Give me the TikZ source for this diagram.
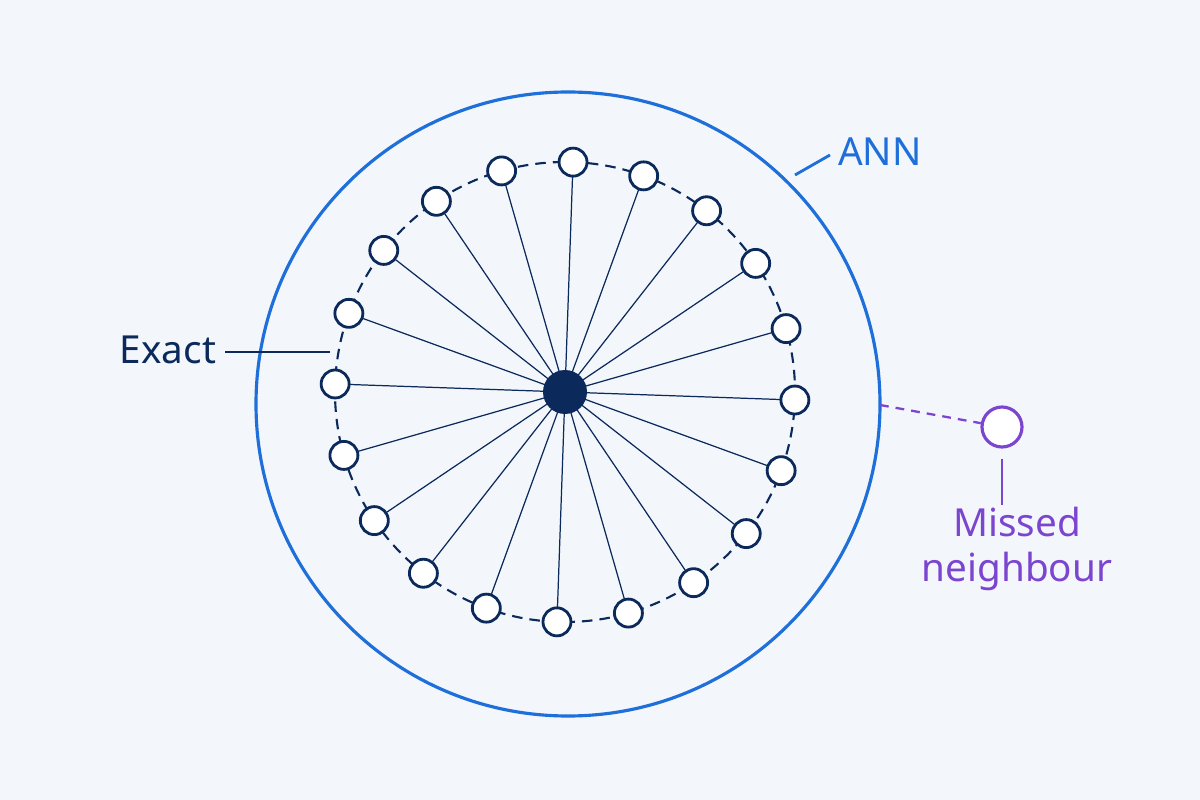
\documentclass[tikz,border=0pt]{standalone}
\usepackage{fontspec}
\setmainfont{Noto Sans}
\usetikzlibrary{calc}
\begin{document}
\begin{tikzpicture}[x=0.02cm,y=-0.02cm,
  nb/.style={circle,draw=navy,line width=1.6pt,fill=white,minimum size=28*0.02cm,inner sep=0},
  spoke/.style={draw=navy,line width=0.7pt},
  lbl/.style={font=\fontsize{22}{26}\selectfont}]
\definecolor{bg}{HTML}{F3F7FC}
\definecolor{navy}{HTML}{0B2A5B}
\definecolor{annblue}{HTML}{1E6FD9}
\definecolor{purp}{HTML}{7B45D0}
\fill[bg] (0,0) rectangle (1200,800);
\useasboundingbox (0,0) rectangle (1200,800);
\draw[annblue,line width=1.8pt] (568,404) circle [radius=312];
\draw[navy,line width=1.2pt,dash pattern=on 6pt off 4pt] (565,392) circle [radius=230];
\coordinate (c) at (565,392);
\foreach \i in {0,...,19}{
  \coordinate (p\i) at ($(c)+({92-18*\i}:230)$);
}
\foreach \i in {0,...,19}{ \draw[spoke] (c) -- (p\i); }
\foreach \i in {0,...,19}{ \node[nb] (n\i) at (p\i) {}; }
\node[circle,fill=navy,minimum size=44*0.02cm,inner sep=0] (q) at (c) {};
% Exact
\node[lbl,text=navy] (ex) at (168,350) {Exact};
\coordinate (exa) at (225,352); \coordinate (exb) at (330,352);
\draw[navy,line width=1.6pt] (exa) -- (exb);
% ANN
\node[lbl,text=annblue] (ann) at (880,152) {ANN};
\coordinate (anna) at (795,175); \coordinate (annb) at (830,155);
\draw[annblue,line width=1.6pt] (anna) -- (annb);
% Missed
\node[circle,draw=purp,line width=1.8pt,fill=white,minimum size=40*0.02cm,inner sep=0] (m) at (1002,427) {};
\coordinate (md) at (880,405);
\draw[purp,line width=1.3pt,dash pattern=on 5pt off 4pt] (md) -- (m);
\coordinate (mv) at (1002,505);
\draw[purp,line width=1.6pt] ([yshift=-0.2cm]m.south) -- (mv);
\node[lbl,text=purp,align=center] (mt) at (1017,549) {Missed\\neighbour};
\end{tikzpicture}
\end{document}
